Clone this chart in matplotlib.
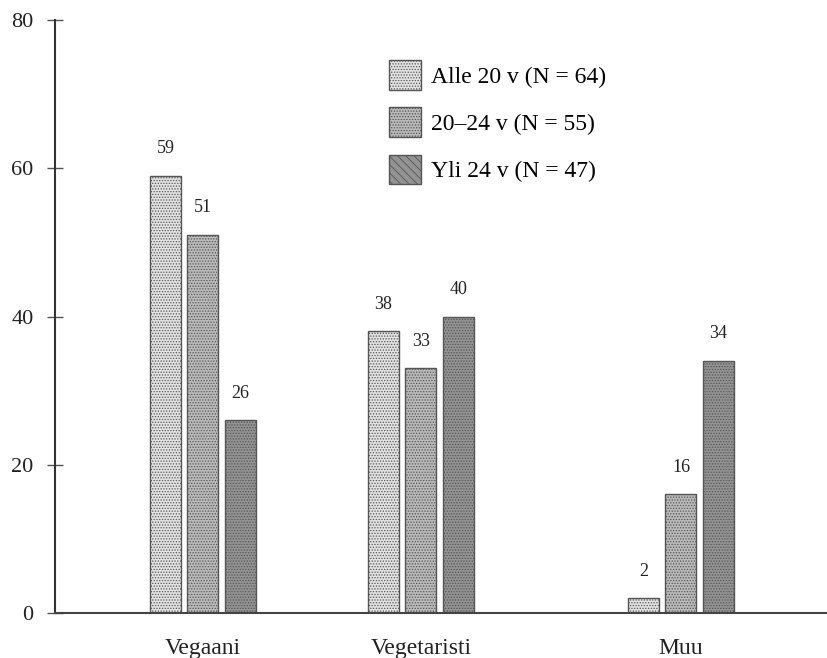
import matplotlib.pyplot as plt
from matplotlib.patches import Patch

# data
categories = ["Vegaani", "Vegetaristi", "Muu"]
groups = ["Alle 20 v (N = 64)", "20\u201324 v (N = 55)", "Yli 24 v (N = 47)"]
alle20 = [59, 38, 2]
v20_24 = [51, 33, 16]
yli24 = [26, 40, 34]

# layout (x in axis pixel units)
centers = [148, 366, 626]
offset = 37.5
width = 31
faces = ["#e2e2e2", "#bababa", "#939393"]

plt.rcParams["font.family"] = ["Liberation Serif", "DejaVu Serif"]
plt.rcParams["hatch.linewidth"] = 0.6

fig = plt.figure(figsize=(8.28, 6.58), dpi=100)
ax = fig.add_axes([55 / 828, 1 - 613 / 658, 1 - 55 / 828, (613 - 20) / 658])

series = [alle20, v20_24, yli24]
for i, vals in enumerate(series):
    xs = [c + (i - 1) * offset for c in centers]
    ax.bar(xs, vals, width=width, color=faces[i], edgecolor="#555555",
           linewidth=1.0, hatch="......", zorder=2)
    for x, v in zip(xs, vals):
        ax.text(x, v + 2.5, str(v), ha="center", va="bottom", fontsize=13,
                color="#222222")

ax.set_xlim(0, 773)
ax.set_ylim(0, 80)
ax.set_xticks(centers)
ax.set_xticklabels(categories, fontsize=17)
ax.set_yticks([0, 20, 40, 60, 80])
ax.tick_params(axis="x", length=0, pad=18, colors="#222222")
ax.tick_params(axis="y", direction="inout", length=11, width=1.0,
               color="#555555", labelsize=16, labelcolor="#222222", pad=10)
for s in ["top", "right"]:
    ax.spines[s].set_visible(False)
ax.spines["left"].set_color("#333333")
ax.spines["left"].set_linewidth(1.5)
ax.spines["bottom"].set_color("#444444")
ax.spines["bottom"].set_linewidth(1.5)

handles = [Patch(facecolor=faces[0], edgecolor="#555555", hatch="......"),
           Patch(facecolor=faces[1], edgecolor="#555555", hatch="......"),
           Patch(facecolor=faces[2], edgecolor="#555555", hatch="\\\\\\\\")]
ax.legend(handles, groups, loc="upper left", frameon=False, fontsize=17,
          bbox_to_anchor=(389 / 828, 1 - 60 / 658), bbox_transform=fig.transFigure,
          borderpad=0, borderaxespad=0, handlelength=1.35, handleheight=1.55,
          handletextpad=0.45, labelspacing=0.75)

fig.savefig("out.png", dpi=100)
